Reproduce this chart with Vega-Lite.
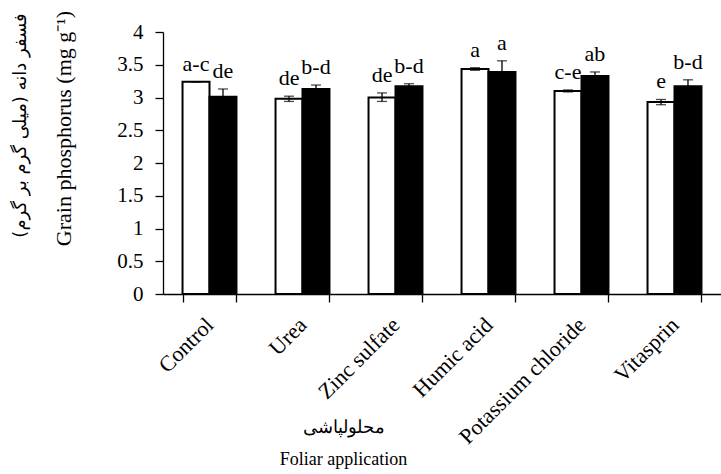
{
  "$schema": "https://vega.github.io/schema/vega-lite/v6.json",
  "autosize": "none",
  "width": 558,
  "height": 262,
  "padding": {"left": 163, "top": 32, "right": 0, "bottom": 180},
  "background": "white",
  "config": {
    "view": {"stroke": null},
    "font": "Liberation Serif",
    "axis": {
      "domainColor": "black",
      "tickColor": "black",
      "labelColor": "black",
      "titleColor": "black",
      "labelFont": "Liberation Serif",
      "titleFont": "Liberation Serif",
      "labelFontSize": 21,
      "titleFontSize": 20,
      "titleFontWeight": "normal",
      "grid": false,
      "domainWidth": 1.3,
      "tickWidth": 1.3,
      "tickSize": 8
    }
  },
  "data": {
    "values": [
      {"cat": "Control", "grp": "A", "mean": 3.24, "lo": 3.24, "hi": 3.24, "label": "a-c"},
      {"cat": "Control", "grp": "B", "mean": 3.01, "lo": 2.89, "hi": 3.13, "label": "de"},
      {"cat": "Urea", "grp": "A", "mean": 2.98, "lo": 2.94, "hi": 3.02, "label": "de"},
      {"cat": "Urea", "grp": "B", "mean": 3.13, "lo": 3.07, "hi": 3.19, "label": "b-d"},
      {"cat": "Zinc sulfate", "grp": "A", "mean": 3.0, "lo": 2.94, "hi": 3.07, "label": "de"},
      {"cat": "Zinc sulfate", "grp": "B", "mean": 3.17, "lo": 3.13, "hi": 3.21, "label": "b-d"},
      {"cat": "Humic acid", "grp": "A", "mean": 3.435, "lo": 3.415, "hi": 3.455, "label": "a"},
      {"cat": "Humic acid", "grp": "B", "mean": 3.39, "lo": 3.22, "hi": 3.56, "label": "a"},
      {"cat": "Potassium chloride", "grp": "A", "mean": 3.1, "lo": 3.085, "hi": 3.115, "label": "c-e"},
      {"cat": "Potassium chloride", "grp": "B", "mean": 3.33, "lo": 3.27, "hi": 3.39, "label": "ab"},
      {"cat": "Vitasprin", "grp": "A", "mean": 2.93, "lo": 2.89, "hi": 2.97, "label": "e"},
      {"cat": "Vitasprin", "grp": "B", "mean": 3.17, "lo": 3.07, "hi": 3.27, "label": "b-d"}
    ]
  },
  "encoding": {
    "x": {
      "field": "cat",
      "type": "nominal",
      "sort": null,
      "scale": {"paddingInner": 0.42, "paddingOuter": 0.21},
      "axis": {
        "tickBand": "extent",
        "labelAngle": -45,
        "labelAlign": "right",
        "labelBaseline": "middle",
        "labelPadding": 19,
        "labelFontSize": 22,
        "title": ["محلولپاشی", "Foliar application"],
        "titleFontSize": 18,
        "titleX": 180,
        "titleY": 124,
        "titleAlign": "center",
        "titleBaseline": "top",
        "titleLineHeight": 32
      }
    },
    "xOffset": {"field": "grp", "type": "nominal", "scale": {"paddingInner": 0, "paddingOuter": 0}}
  },
  "layer": [
    {
      "encoding": {
        "y": {
          "type": "quantitative",
          "scale": {"domain": [0, 4]},
          "axis": {
            "orient": "left",
            "values": [0, 0.5, 1, 1.5, 2, 2.5, 3, 3.5, 4],
            "format": "~g",
            "labelPadding": 12,
            "title": "Grain phosphorus (mg g⁻¹)",
            "titleFontSize": 22,
            "titleAngle": -90,
            "titleX": -100,
            "titleY": 96,
            "titleAlign": "center",
            "titleBaseline": "middle"
          }
        }
      },
      "layer": [
        {
          "mark": {"type": "bar", "stroke": "black", "strokeWidth": 2},
          "encoding": {
            "y": {"field": "mean"},
            "fill": {"field": "grp", "type": "nominal", "scale": {"domain": ["A", "B"], "range": ["white", "black"]}, "legend": null}
          }
        },
        {
          "mark": {"type": "rule", "color": "black", "strokeWidth": 1.3},
          "encoding": {"y": {"field": "lo"}, "y2": {"field": "hi"}}
        },
        {
          "mark": {"type": "tick", "color": "black", "size": 10, "thickness": 1.3},
          "encoding": {"y": {"field": "hi"}}
        },
        {
          "mark": {"type": "tick", "color": "black", "size": 10, "thickness": 1.3},
          "encoding": {"y": {"field": "lo"}}
        }
      ]
    },
    {
      "mark": {"type": "text", "baseline": "bottom", "dy": -6, "fontSize": 22, "font": "Liberation Serif", "color": "black"},
      "encoding": {
        "y": {
          "field": "hi",
          "type": "quantitative",
          "axis": {
            "orient": "left",
            "labels": false,
            "ticks": false,
            "domain": false,
            "title": "فسفر دانه (میلی گرم بر گرم)",
            "titleFont": "DejaVu Sans",
            "titleFontSize": 18,
            "titleAngle": -90,
            "titleX": -143,
            "titleY": 93,
            "titleAlign": "center",
            "titleBaseline": "middle"
          }
        },
        "text": {"field": "label"}
      }
    }
  ],
  "resolve": {"axis": {"y": "independent"}}
}
